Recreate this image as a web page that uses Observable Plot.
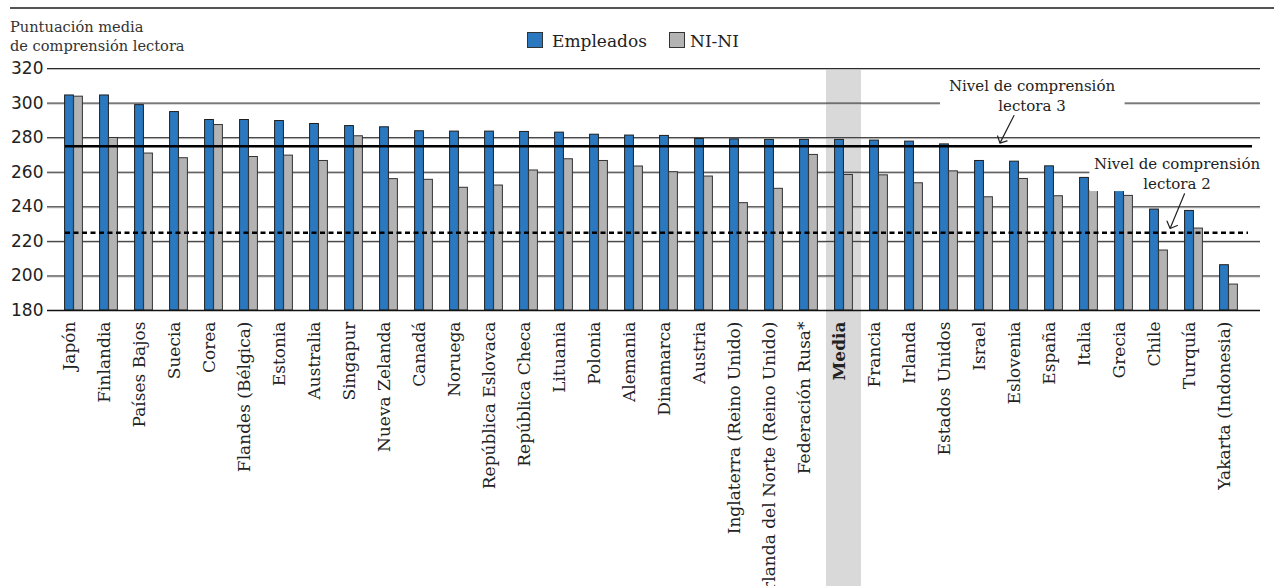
<!DOCTYPE html>
<html><head><meta charset="utf-8">
<script src="https://cdn.jsdelivr.net/npm/d3@7"></script>
<script src="https://cdn.jsdelivr.net/npm/@observablehq/plot@0.6"></script>
<style>
html,body{margin:0;padding:0;background:#fff;}
body{width:1274px;height:586px;overflow:hidden;position:relative;font-family:"DejaVu Serif";color:#222;}
#topline{position:absolute;left:10px;right:0;top:7px;border-top:2.5px solid #555;}
#title{position:absolute;left:10px;top:17px;font-family:"DejaVu Serif";font-size:14.6px;line-height:19px;color:#333;}
.sw{position:absolute;top:32px;width:14px;height:14px;border:1px solid #333;box-sizing:content-box;}
.lt{position:absolute;top:31px;font-family:"DejaVu Serif";font-size:17px;line-height:20px;}
#chart{position:absolute;left:0;top:0;}
</style></head>
<body>
<div id="topline"></div>
<div id="title">Puntuación media<br>de comprensión lectora</div>
<div id="legend"></div>
<div id="chart"></div>
<script>
const countries = ["Japón","Finlandia","Países Bajos","Suecia","Corea","Flandes (Bélgica)","Estonia","Australia","Singapur","Nueva Zelanda","Canadá","Noruega","República Eslovaca","República Checa","Lituania","Polonia","Alemania","Dinamarca","Austria","Inglaterra (Reino Unido)","Irlanda del Norte (Reino Unido)","Federación Rusa*","Media","Francia","Irlanda","Estados Unidos","Israel","Eslovenia","España","Italia","Grecia","Chile","Turquía","Yakarta (Indonesia)"];
const empleados = [304.4,304.4,298.8,294.8,290.2,290.2,289.6,287.9,286.7,286.0,283.7,283.5,283.5,283.3,282.9,281.7,281.2,281.0,279.2,279.0,278.7,278.7,278.7,278.3,277.7,276.1,266.5,266.1,263.4,256.7,249.5,238.4,237.6,206.2];
const nini = [303.7,279.8,270.8,268.1,287.3,268.8,269.6,266.5,280.8,256.0,255.6,251.0,252.3,261.0,267.5,266.5,263.3,260.0,257.5,242.1,250.4,270.0,258.4,258.2,253.6,260.5,245.5,256.1,246.1,249.2,246.3,214.7,227.4,195.0];
const yTicks = [180,200,220,240,260,280,300,320];
const seriesNames = ["Empleados","NI-NI"];
const seriesColors = ["#2a79c0","#b3b3b3"];
const highlight = ["Media"];
const levelValues = [275,225];
const levelLabels = ["Nivel de comprensión\nlectora 3","Nivel de comprensión\nlectora 2"];
const levelLabelAnchors = ["Eslovenia","Turquía"];
const levelLabelValues = [305,259.8];
const arrowTailValues = [292.8,247.5];

const rows = countries.map((c,i)=>({country:c, emp:empleados[i], nini:nini[i]}));

// legend
const legendX = [527,669];
const lg = document.getElementById("legend");
seriesNames.forEach((n,i)=>{
  const s=document.createElement("span");s.className="sw";s.style.left=legendX[i]+"px";s.style.background=seriesColors[i];lg.appendChild(s);
  const t=document.createElement("span");t.className="lt";t.style.left=(legendX[i]+(i===0?25:21))+"px";t.textContent=n;lg.appendChild(t);
});

const W=1274,H=586,mL=47,mR=14,mT=68,mB=276;
const plot = Plot.plot({
  width:W,height:H,marginTop:mT,marginBottom:mB,marginLeft:mL,marginRight:mR,
  style:{fontFamily:"DejaVu Serif",fontSize:"17px",color:"#222",background:"transparent",overflow:"visible"},
  x:{type:"band",domain:countries,padding:0,insetLeft:6,insetRight:10.4},
  y:{domain:[180,320]},
  marks:[
    Plot.barY(highlight,{x:d=>d,y1:320,y2:180,fill:"#d9d9d9",insetBottom:-mB}),
    Plot.ruleY(yTicks.slice(1),{stroke:"#bbb",dy:1}),
    Plot.ruleY(yTicks.slice(1),{stroke:"#2a2a2a"}),
    Plot.barY(rows,{x:"country",y1:180,y2:"emp",fill:seriesColors[0],stroke:"#1e1e1e",strokeWidth:1,insetLeft:8.6,insetRight:17.6}),
    Plot.barY(rows,{x:"country",y1:180,y2:"nini",fill:seriesColors[1],stroke:"#333",strokeWidth:1,insetLeft:17.6,insetRight:8.6}),
    Plot.ruleY([180],{stroke:"#111",strokeWidth:1.5}),
    // white backgrounds behind annotation labels
    Plot.barY([levelLabelAnchors[0]],{x:d=>d,y1:318,y2:294,fill:"#fff",insetLeft:-61,insetRight:-88.6}),
    Plot.barY(["Italia"],{x:d=>d,y1:270.8,y2:248.8,fill:"#fff",insetLeft:18.4,insetRight:-170}),
    Plot.ruleY([levelValues[0]],{stroke:"#000",strokeWidth:2.6,insetLeft:18,insetRight:8}),
    Plot.ruleY([levelValues[1]],{stroke:"#000",strokeWidth:2.6,strokeDasharray:"5,3.5",insetLeft:18,insetRight:12}),
    Plot.text([levelLabels[0]],{x:()=>levelLabelAnchors[0],y:()=>levelLabelValues[0],dx:13,text:d=>d,fontSize:15,lineHeight:1.37,fill:"#222",textAnchor:"middle"}),
    Plot.text([levelLabels[1]],{x:()=>levelLabelAnchors[1],y:()=>levelLabelValues[1],dx:-17,text:d=>d,fontSize:15,lineHeight:1.37,fill:"#222",textAnchor:"middle"}),
    Plot.vector([0],{x:()=>levelLabelAnchors[0],y:()=>arrowTailValues[0],dx:-5,length:31,rotate:207,anchor:"start",stroke:"#222",strokeWidth:1.2,r:3}),
    Plot.vector([0],{x:()=>levelLabelAnchors[1],y:()=>arrowTailValues[1],dx:-9.5,length:37.5,rotate:202.6,anchor:"start",stroke:"#222",strokeWidth:1.2,r:2.6}),
    Plot.axisY({ticks:yTicks,tickSize:0,tickPadding:4,fontFamily:"DejaVu Sans",fontSize:17,label:null}),
    Plot.axisX({tickRotate:-90,tickSize:0,tickPadding:11,dx:-4,label:null,fontSize:17})
  ]
});
document.getElementById("chart").appendChild(plot);
const svg = d3.select(plot);
svg.selectAll("text").filter(function(){return this.textContent==="Media";}).attr("font-weight","bold");
</script>
</body></html>
